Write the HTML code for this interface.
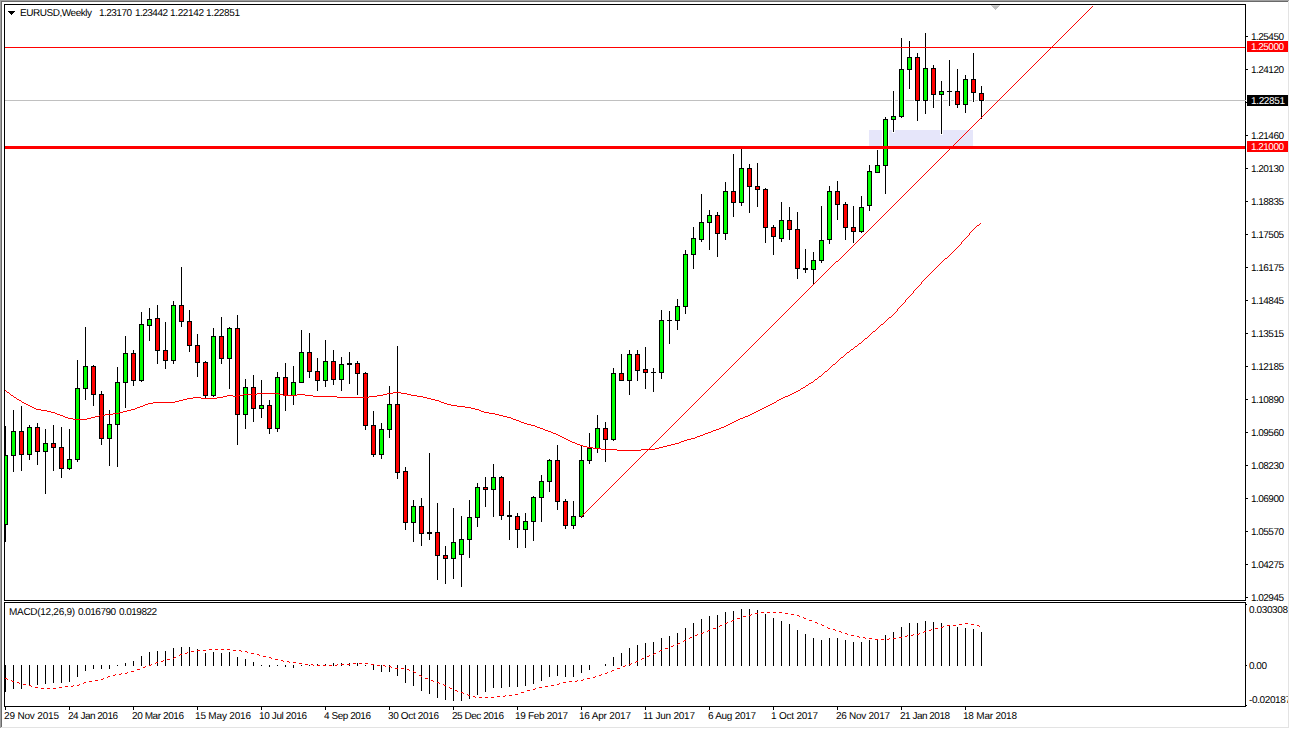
<!DOCTYPE html>
<html><head><meta charset="utf-8"><title>EURUSD,Weekly</title>
<style>html,body{margin:0;padding:0;background:#fff;width:1290px;height:729px;overflow:hidden}svg{display:block}</style>
</head><body>
<svg width="1290" height="729" viewBox="0 0 1290 729" shape-rendering="crispEdges"><defs><clipPath id="cm"><rect x="5" y="5" width="1240" height="595"/></clipPath><clipPath id="cd"><rect x="5" y="603" width="1240" height="103"/></clipPath></defs><rect x="0" y="0" width="1290" height="729" fill="#FFFFFF"/><rect x="0" y="0" width="1289" height="1" fill="#A0A0A0"/><rect x="0" y="0" width="1" height="728" fill="#A0A0A0"/><rect x="1" y="1" width="1287" height="1" fill="#696969"/><rect x="1" y="1" width="1" height="726" fill="#696969"/><rect x="1" y="727" width="1288" height="1" fill="#E3E3E3"/><rect x="1288" y="1" width="1" height="727" fill="#E3E3E3"/><g clip-path="url(#cm)"><rect x="869" y="130" width="104" height="17" fill="#E6E6FA"/><rect x="5" y="100" width="1241" height="1" fill="#C0C0C0"/><rect x="5" y="426" width="1" height="116" fill="#000000"/><rect x="3" y="455" width="5" height="70" fill="#000000"/><rect x="4" y="456" width="3" height="68" fill="#00FF00"/><rect x="13" y="410" width="1" height="62" fill="#000000"/><rect x="11" y="431" width="5" height="25" fill="#000000"/><rect x="12" y="432" width="3" height="23" fill="#00FF00"/><rect x="21" y="406" width="1" height="65" fill="#000000"/><rect x="19" y="431" width="5" height="24" fill="#000000"/><rect x="20" y="432" width="3" height="22" fill="#FF0000"/><rect x="29" y="425" width="1" height="35" fill="#000000"/><rect x="27" y="427" width="5" height="28" fill="#000000"/><rect x="28" y="428" width="3" height="26" fill="#00FF00"/><rect x="37" y="423" width="1" height="42" fill="#000000"/><rect x="35" y="427" width="5" height="25" fill="#000000"/><rect x="36" y="428" width="3" height="23" fill="#FF0000"/><rect x="45" y="429" width="1" height="65" fill="#000000"/><rect x="43" y="443" width="5" height="9" fill="#000000"/><rect x="44" y="444" width="3" height="7" fill="#00FF00"/><rect x="53" y="425" width="1" height="46" fill="#000000"/><rect x="51" y="443" width="5" height="5" fill="#000000"/><rect x="52" y="444" width="3" height="3" fill="#FF0000"/><rect x="61" y="427" width="1" height="51" fill="#000000"/><rect x="59" y="447" width="5" height="22" fill="#000000"/><rect x="60" y="448" width="3" height="20" fill="#FF0000"/><rect x="69" y="429" width="1" height="41" fill="#000000"/><rect x="67" y="459" width="5" height="10" fill="#000000"/><rect x="68" y="460" width="3" height="8" fill="#00FF00"/><rect x="77" y="360" width="1" height="102" fill="#000000"/><rect x="75" y="388" width="5" height="72" fill="#000000"/><rect x="76" y="389" width="3" height="70" fill="#00FF00"/><rect x="85" y="327" width="1" height="73" fill="#000000"/><rect x="83" y="366" width="5" height="23" fill="#000000"/><rect x="84" y="367" width="3" height="21" fill="#00FF00"/><rect x="93" y="365" width="1" height="41" fill="#000000"/><rect x="91" y="366" width="5" height="29" fill="#000000"/><rect x="92" y="367" width="3" height="27" fill="#FF0000"/><rect x="101" y="391" width="1" height="54" fill="#000000"/><rect x="99" y="394" width="5" height="45" fill="#000000"/><rect x="100" y="395" width="3" height="43" fill="#FF0000"/><rect x="109" y="410" width="1" height="56" fill="#000000"/><rect x="107" y="424" width="5" height="15" fill="#000000"/><rect x="108" y="425" width="3" height="13" fill="#00FF00"/><rect x="117" y="367" width="1" height="100" fill="#000000"/><rect x="115" y="382" width="5" height="43" fill="#000000"/><rect x="116" y="383" width="3" height="41" fill="#00FF00"/><rect x="125" y="336" width="1" height="72" fill="#000000"/><rect x="123" y="353" width="5" height="30" fill="#000000"/><rect x="124" y="354" width="3" height="28" fill="#00FF00"/><rect x="133" y="350" width="1" height="36" fill="#000000"/><rect x="131" y="353" width="5" height="28" fill="#000000"/><rect x="132" y="354" width="3" height="26" fill="#FF0000"/><rect x="141" y="312" width="1" height="70" fill="#000000"/><rect x="139" y="324" width="5" height="57" fill="#000000"/><rect x="140" y="325" width="3" height="55" fill="#00FF00"/><rect x="149" y="308" width="1" height="33" fill="#000000"/><rect x="147" y="319" width="5" height="7" fill="#000000"/><rect x="148" y="320" width="3" height="5" fill="#00FF00"/><rect x="157" y="305" width="1" height="59" fill="#000000"/><rect x="155" y="318" width="5" height="33" fill="#000000"/><rect x="156" y="319" width="3" height="31" fill="#FF0000"/><rect x="165" y="322" width="1" height="47" fill="#000000"/><rect x="163" y="350" width="5" height="11" fill="#000000"/><rect x="164" y="351" width="3" height="9" fill="#FF0000"/><rect x="173" y="301" width="1" height="63" fill="#000000"/><rect x="171" y="305" width="5" height="56" fill="#000000"/><rect x="172" y="306" width="3" height="54" fill="#00FF00"/><rect x="181" y="267" width="1" height="60" fill="#000000"/><rect x="179" y="305" width="5" height="17" fill="#000000"/><rect x="180" y="306" width="3" height="15" fill="#FF0000"/><rect x="189" y="310" width="1" height="42" fill="#000000"/><rect x="187" y="321" width="5" height="25" fill="#000000"/><rect x="188" y="322" width="3" height="23" fill="#FF0000"/><rect x="197" y="334" width="1" height="43" fill="#000000"/><rect x="195" y="345" width="5" height="18" fill="#000000"/><rect x="196" y="346" width="3" height="16" fill="#FF0000"/><rect x="205" y="361" width="1" height="37" fill="#000000"/><rect x="203" y="362" width="5" height="34" fill="#000000"/><rect x="204" y="363" width="3" height="32" fill="#FF0000"/><rect x="213" y="328" width="1" height="69" fill="#000000"/><rect x="211" y="336" width="5" height="60" fill="#000000"/><rect x="212" y="337" width="3" height="58" fill="#00FF00"/><rect x="221" y="317" width="1" height="47" fill="#000000"/><rect x="219" y="336" width="5" height="23" fill="#000000"/><rect x="220" y="337" width="3" height="21" fill="#FF0000"/><rect x="229" y="327" width="1" height="62" fill="#000000"/><rect x="227" y="328" width="5" height="31" fill="#000000"/><rect x="228" y="329" width="3" height="29" fill="#00FF00"/><rect x="237" y="315" width="1" height="130" fill="#000000"/><rect x="235" y="328" width="5" height="87" fill="#000000"/><rect x="236" y="329" width="3" height="85" fill="#FF0000"/><rect x="245" y="379" width="1" height="50" fill="#000000"/><rect x="243" y="387" width="5" height="28" fill="#000000"/><rect x="244" y="388" width="3" height="26" fill="#00FF00"/><rect x="253" y="375" width="1" height="47" fill="#000000"/><rect x="251" y="387" width="5" height="22" fill="#000000"/><rect x="252" y="388" width="3" height="20" fill="#FF0000"/><rect x="261" y="380" width="1" height="38" fill="#000000"/><rect x="259" y="405" width="5" height="4" fill="#000000"/><rect x="260" y="406" width="3" height="2" fill="#00FF00"/><rect x="269" y="400" width="1" height="34" fill="#000000"/><rect x="267" y="405" width="5" height="24" fill="#000000"/><rect x="268" y="406" width="3" height="22" fill="#FF0000"/><rect x="277" y="372" width="1" height="60" fill="#000000"/><rect x="275" y="377" width="5" height="52" fill="#000000"/><rect x="276" y="378" width="3" height="50" fill="#00FF00"/><rect x="285" y="363" width="1" height="48" fill="#000000"/><rect x="283" y="377" width="5" height="19" fill="#000000"/><rect x="284" y="378" width="3" height="17" fill="#FF0000"/><rect x="293" y="366" width="1" height="39" fill="#000000"/><rect x="291" y="382" width="5" height="14" fill="#000000"/><rect x="292" y="383" width="3" height="12" fill="#00FF00"/><rect x="301" y="330" width="1" height="52" fill="#000000"/><rect x="299" y="352" width="5" height="31" fill="#000000"/><rect x="300" y="353" width="3" height="29" fill="#00FF00"/><rect x="309" y="333" width="1" height="45" fill="#000000"/><rect x="307" y="352" width="5" height="20" fill="#000000"/><rect x="308" y="353" width="3" height="18" fill="#FF0000"/><rect x="317" y="358" width="1" height="33" fill="#000000"/><rect x="315" y="371" width="5" height="10" fill="#000000"/><rect x="316" y="372" width="3" height="8" fill="#FF0000"/><rect x="325" y="340" width="1" height="47" fill="#000000"/><rect x="323" y="361" width="5" height="20" fill="#000000"/><rect x="324" y="362" width="3" height="18" fill="#00FF00"/><rect x="333" y="350" width="1" height="35" fill="#000000"/><rect x="331" y="361" width="5" height="19" fill="#000000"/><rect x="332" y="362" width="3" height="17" fill="#FF0000"/><rect x="341" y="357" width="1" height="34" fill="#000000"/><rect x="339" y="364" width="5" height="16" fill="#000000"/><rect x="340" y="365" width="3" height="14" fill="#00FF00"/><rect x="349" y="352" width="1" height="32" fill="#000000"/><rect x="347" y="363" width="5" height="2" fill="#000000"/><rect x="357" y="361" width="1" height="34" fill="#000000"/><rect x="355" y="363" width="5" height="11" fill="#000000"/><rect x="356" y="364" width="3" height="9" fill="#FF0000"/><rect x="365" y="372" width="1" height="58" fill="#000000"/><rect x="363" y="373" width="5" height="53" fill="#000000"/><rect x="364" y="374" width="3" height="51" fill="#FF0000"/><rect x="373" y="411" width="1" height="46" fill="#000000"/><rect x="371" y="425" width="5" height="30" fill="#000000"/><rect x="372" y="426" width="3" height="28" fill="#FF0000"/><rect x="381" y="423" width="1" height="36" fill="#000000"/><rect x="379" y="429" width="5" height="26" fill="#000000"/><rect x="380" y="430" width="3" height="24" fill="#00FF00"/><rect x="389" y="386" width="1" height="52" fill="#000000"/><rect x="387" y="404" width="5" height="26" fill="#000000"/><rect x="388" y="405" width="3" height="24" fill="#00FF00"/><rect x="397" y="346" width="1" height="133" fill="#000000"/><rect x="395" y="404" width="5" height="69" fill="#000000"/><rect x="396" y="405" width="3" height="67" fill="#FF0000"/><rect x="405" y="467" width="1" height="63" fill="#000000"/><rect x="403" y="471" width="5" height="52" fill="#000000"/><rect x="404" y="472" width="3" height="50" fill="#FF0000"/><rect x="413" y="500" width="1" height="42" fill="#000000"/><rect x="411" y="506" width="5" height="17" fill="#000000"/><rect x="412" y="507" width="3" height="15" fill="#00FF00"/><rect x="421" y="498" width="1" height="48" fill="#000000"/><rect x="419" y="506" width="5" height="28" fill="#000000"/><rect x="420" y="507" width="3" height="26" fill="#FF0000"/><rect x="429" y="453" width="1" height="87" fill="#000000"/><rect x="427" y="532" width="5" height="2" fill="#000000"/><rect x="437" y="503" width="1" height="77" fill="#000000"/><rect x="435" y="532" width="5" height="24" fill="#000000"/><rect x="436" y="533" width="3" height="22" fill="#FF0000"/><rect x="445" y="546" width="1" height="38" fill="#000000"/><rect x="443" y="555" width="5" height="4" fill="#000000"/><rect x="444" y="556" width="3" height="2" fill="#FF0000"/><rect x="453" y="508" width="1" height="71" fill="#000000"/><rect x="451" y="542" width="5" height="17" fill="#000000"/><rect x="452" y="543" width="3" height="15" fill="#00FF00"/><rect x="461" y="516" width="1" height="71" fill="#000000"/><rect x="459" y="539" width="5" height="16" fill="#000000"/><rect x="460" y="540" width="3" height="14" fill="#00FF00"/><rect x="469" y="500" width="1" height="58" fill="#000000"/><rect x="467" y="517" width="5" height="23" fill="#000000"/><rect x="468" y="518" width="3" height="21" fill="#00FF00"/><rect x="477" y="483" width="1" height="44" fill="#000000"/><rect x="475" y="487" width="5" height="31" fill="#000000"/><rect x="476" y="488" width="3" height="29" fill="#00FF00"/><rect x="485" y="477" width="1" height="30" fill="#000000"/><rect x="483" y="487" width="5" height="3" fill="#000000"/><rect x="484" y="488" width="3" height="1" fill="#FF0000"/><rect x="493" y="464" width="1" height="53" fill="#000000"/><rect x="491" y="477" width="5" height="13" fill="#000000"/><rect x="492" y="478" width="3" height="11" fill="#00FF00"/><rect x="501" y="476" width="1" height="44" fill="#000000"/><rect x="499" y="477" width="5" height="39" fill="#000000"/><rect x="500" y="478" width="3" height="37" fill="#FF0000"/><rect x="509" y="501" width="1" height="39" fill="#000000"/><rect x="507" y="515" width="5" height="2" fill="#000000"/><rect x="517" y="513" width="1" height="35" fill="#000000"/><rect x="515" y="516" width="5" height="14" fill="#000000"/><rect x="516" y="517" width="3" height="12" fill="#FF0000"/><rect x="525" y="513" width="1" height="35" fill="#000000"/><rect x="523" y="521" width="5" height="9" fill="#000000"/><rect x="524" y="522" width="3" height="7" fill="#00FF00"/><rect x="533" y="496" width="1" height="45" fill="#000000"/><rect x="531" y="497" width="5" height="25" fill="#000000"/><rect x="532" y="498" width="3" height="23" fill="#00FF00"/><rect x="541" y="475" width="1" height="47" fill="#000000"/><rect x="539" y="481" width="5" height="17" fill="#000000"/><rect x="540" y="482" width="3" height="15" fill="#00FF00"/><rect x="549" y="459" width="1" height="33" fill="#000000"/><rect x="547" y="460" width="5" height="22" fill="#000000"/><rect x="548" y="461" width="3" height="20" fill="#00FF00"/><rect x="557" y="445" width="1" height="65" fill="#000000"/><rect x="555" y="460" width="5" height="42" fill="#000000"/><rect x="556" y="461" width="3" height="40" fill="#FF0000"/><rect x="565" y="499" width="1" height="30" fill="#000000"/><rect x="563" y="501" width="5" height="25" fill="#000000"/><rect x="564" y="502" width="3" height="23" fill="#FF0000"/><rect x="573" y="501" width="1" height="28" fill="#000000"/><rect x="571" y="516" width="5" height="10" fill="#000000"/><rect x="572" y="517" width="3" height="8" fill="#00FF00"/><rect x="581" y="445" width="1" height="73" fill="#000000"/><rect x="579" y="460" width="5" height="57" fill="#000000"/><rect x="580" y="461" width="3" height="55" fill="#00FF00"/><rect x="589" y="433" width="1" height="31" fill="#000000"/><rect x="587" y="448" width="5" height="13" fill="#000000"/><rect x="588" y="449" width="3" height="11" fill="#00FF00"/><rect x="597" y="415" width="1" height="38" fill="#000000"/><rect x="595" y="428" width="5" height="21" fill="#000000"/><rect x="596" y="429" width="3" height="19" fill="#00FF00"/><rect x="605" y="422" width="1" height="40" fill="#000000"/><rect x="603" y="428" width="5" height="12" fill="#000000"/><rect x="604" y="429" width="3" height="10" fill="#FF0000"/><rect x="613" y="368" width="1" height="73" fill="#000000"/><rect x="611" y="373" width="5" height="67" fill="#000000"/><rect x="612" y="374" width="3" height="65" fill="#00FF00"/><rect x="621" y="354" width="1" height="27" fill="#000000"/><rect x="619" y="373" width="5" height="8" fill="#000000"/><rect x="620" y="374" width="3" height="6" fill="#FF0000"/><rect x="629" y="350" width="1" height="45" fill="#000000"/><rect x="627" y="354" width="5" height="27" fill="#000000"/><rect x="628" y="355" width="3" height="25" fill="#00FF00"/><rect x="637" y="350" width="1" height="31" fill="#000000"/><rect x="635" y="354" width="5" height="17" fill="#000000"/><rect x="636" y="355" width="3" height="15" fill="#FF0000"/><rect x="645" y="347" width="1" height="42" fill="#000000"/><rect x="643" y="369" width="5" height="4" fill="#000000"/><rect x="644" y="370" width="3" height="2" fill="#FF0000"/><rect x="653" y="368" width="1" height="24" fill="#000000"/><rect x="651" y="372" width="5" height="1" fill="#000000"/><rect x="661" y="310" width="1" height="69" fill="#000000"/><rect x="659" y="320" width="5" height="53" fill="#000000"/><rect x="660" y="321" width="3" height="51" fill="#00FF00"/><rect x="669" y="311" width="1" height="33" fill="#000000"/><rect x="667" y="320" width="5" height="1" fill="#000000"/><rect x="677" y="299" width="1" height="31" fill="#000000"/><rect x="675" y="306" width="5" height="15" fill="#000000"/><rect x="676" y="307" width="3" height="13" fill="#00FF00"/><rect x="685" y="250" width="1" height="64" fill="#000000"/><rect x="683" y="254" width="5" height="53" fill="#000000"/><rect x="684" y="255" width="3" height="51" fill="#00FF00"/><rect x="693" y="227" width="1" height="42" fill="#000000"/><rect x="691" y="238" width="5" height="17" fill="#000000"/><rect x="692" y="239" width="3" height="15" fill="#00FF00"/><rect x="701" y="194" width="1" height="48" fill="#000000"/><rect x="699" y="222" width="5" height="18" fill="#000000"/><rect x="700" y="223" width="3" height="16" fill="#00FF00"/><rect x="709" y="210" width="1" height="40" fill="#000000"/><rect x="707" y="215" width="5" height="8" fill="#000000"/><rect x="708" y="216" width="3" height="6" fill="#00FF00"/><rect x="717" y="212" width="1" height="45" fill="#000000"/><rect x="715" y="215" width="5" height="19" fill="#000000"/><rect x="716" y="216" width="3" height="17" fill="#FF0000"/><rect x="725" y="182" width="1" height="58" fill="#000000"/><rect x="723" y="191" width="5" height="43" fill="#000000"/><rect x="724" y="192" width="3" height="41" fill="#00FF00"/><rect x="733" y="154" width="1" height="63" fill="#000000"/><rect x="731" y="191" width="5" height="12" fill="#000000"/><rect x="732" y="192" width="3" height="10" fill="#FF0000"/><rect x="740" y="147" width="3" height="60" fill="#FFFFFF"/><rect x="738" y="167" width="7" height="37" fill="#FFFFFF"/><rect x="741" y="148" width="1" height="58" fill="#000000"/><rect x="739" y="168" width="5" height="35" fill="#000000"/><rect x="740" y="169" width="3" height="33" fill="#00FF00"/><rect x="749" y="164" width="1" height="49" fill="#000000"/><rect x="747" y="168" width="5" height="19" fill="#000000"/><rect x="748" y="169" width="3" height="17" fill="#FF0000"/><rect x="757" y="163" width="1" height="44" fill="#000000"/><rect x="755" y="186" width="5" height="4" fill="#000000"/><rect x="756" y="187" width="3" height="2" fill="#FF0000"/><rect x="765" y="188" width="1" height="55" fill="#000000"/><rect x="763" y="189" width="5" height="39" fill="#000000"/><rect x="764" y="190" width="3" height="37" fill="#FF0000"/><rect x="773" y="225" width="1" height="30" fill="#000000"/><rect x="771" y="227" width="5" height="10" fill="#000000"/><rect x="772" y="228" width="3" height="8" fill="#FF0000"/><rect x="781" y="202" width="1" height="40" fill="#000000"/><rect x="779" y="220" width="5" height="19" fill="#000000"/><rect x="780" y="221" width="3" height="17" fill="#00FF00"/><rect x="789" y="207" width="1" height="33" fill="#000000"/><rect x="787" y="220" width="5" height="10" fill="#000000"/><rect x="788" y="221" width="3" height="8" fill="#FF0000"/><rect x="797" y="212" width="1" height="67" fill="#000000"/><rect x="795" y="229" width="5" height="40" fill="#000000"/><rect x="796" y="230" width="3" height="38" fill="#FF0000"/><rect x="805" y="249" width="1" height="24" fill="#000000"/><rect x="803" y="268" width="5" height="2" fill="#000000"/><rect x="813" y="252" width="1" height="32" fill="#000000"/><rect x="811" y="260" width="5" height="10" fill="#000000"/><rect x="812" y="261" width="3" height="8" fill="#00FF00"/><rect x="821" y="206" width="1" height="57" fill="#000000"/><rect x="819" y="240" width="5" height="21" fill="#000000"/><rect x="820" y="241" width="3" height="19" fill="#00FF00"/><rect x="829" y="186" width="1" height="58" fill="#000000"/><rect x="827" y="191" width="5" height="49" fill="#000000"/><rect x="828" y="192" width="3" height="47" fill="#00FF00"/><rect x="837" y="181" width="1" height="39" fill="#000000"/><rect x="835" y="191" width="5" height="14" fill="#000000"/><rect x="836" y="192" width="3" height="12" fill="#FF0000"/><rect x="845" y="202" width="1" height="38" fill="#000000"/><rect x="843" y="204" width="5" height="24" fill="#000000"/><rect x="844" y="205" width="3" height="22" fill="#FF0000"/><rect x="853" y="206" width="1" height="37" fill="#000000"/><rect x="851" y="227" width="5" height="5" fill="#000000"/><rect x="852" y="228" width="3" height="3" fill="#FF0000"/><rect x="861" y="196" width="1" height="37" fill="#000000"/><rect x="859" y="207" width="5" height="25" fill="#000000"/><rect x="860" y="208" width="3" height="23" fill="#00FF00"/><rect x="869" y="165" width="1" height="46" fill="#000000"/><rect x="867" y="171" width="5" height="35" fill="#000000"/><rect x="868" y="172" width="3" height="33" fill="#00FF00"/><rect x="876" y="149" width="3" height="24" fill="#FFFFFF"/><rect x="874" y="164" width="7" height="10" fill="#FFFFFF"/><rect x="877" y="150" width="1" height="22" fill="#000000"/><rect x="875" y="165" width="5" height="8" fill="#000000"/><rect x="876" y="166" width="3" height="6" fill="#00FF00"/><rect x="884" y="116" width="3" height="79" fill="#FFFFFF"/><rect x="882" y="118" width="7" height="49" fill="#FFFFFF"/><rect x="885" y="117" width="1" height="77" fill="#000000"/><rect x="883" y="119" width="5" height="47" fill="#000000"/><rect x="884" y="120" width="3" height="45" fill="#00FF00"/><rect x="892" y="90" width="3" height="43" fill="#FFFFFF"/><rect x="890" y="115" width="7" height="6" fill="#FFFFFF"/><rect x="893" y="91" width="1" height="41" fill="#000000"/><rect x="891" y="116" width="5" height="4" fill="#000000"/><rect x="892" y="117" width="3" height="2" fill="#00FF00"/><rect x="900" y="37" width="3" height="82" fill="#FFFFFF"/><rect x="898" y="68" width="7" height="50" fill="#FFFFFF"/><rect x="901" y="38" width="1" height="80" fill="#000000"/><rect x="899" y="69" width="5" height="48" fill="#000000"/><rect x="900" y="70" width="3" height="46" fill="#00FF00"/><rect x="909" y="41" width="1" height="48" fill="#000000"/><rect x="907" y="57" width="5" height="13" fill="#000000"/><rect x="908" y="58" width="3" height="11" fill="#00FF00"/><rect x="916" y="52" width="3" height="70" fill="#FFFFFF"/><rect x="914" y="56" width="7" height="46" fill="#FFFFFF"/><rect x="917" y="53" width="1" height="68" fill="#000000"/><rect x="915" y="57" width="5" height="44" fill="#000000"/><rect x="916" y="58" width="3" height="42" fill="#FF0000"/><rect x="924" y="32" width="3" height="83" fill="#FFFFFF"/><rect x="922" y="67" width="7" height="35" fill="#FFFFFF"/><rect x="925" y="33" width="1" height="81" fill="#000000"/><rect x="923" y="68" width="5" height="33" fill="#000000"/><rect x="924" y="69" width="3" height="31" fill="#00FF00"/><rect x="932" y="64" width="3" height="45" fill="#FFFFFF"/><rect x="930" y="67" width="7" height="29" fill="#FFFFFF"/><rect x="933" y="65" width="1" height="43" fill="#000000"/><rect x="931" y="68" width="5" height="27" fill="#000000"/><rect x="932" y="69" width="3" height="25" fill="#FF0000"/><rect x="940" y="80" width="3" height="55" fill="#FFFFFF"/><rect x="938" y="90" width="7" height="6" fill="#FFFFFF"/><rect x="941" y="81" width="1" height="53" fill="#000000"/><rect x="939" y="91" width="5" height="4" fill="#000000"/><rect x="940" y="92" width="3" height="2" fill="#00FF00"/><rect x="948" y="59" width="3" height="48" fill="#FFFFFF"/><rect x="946" y="90" width="7" height="3" fill="#FFFFFF"/><rect x="949" y="60" width="1" height="46" fill="#000000"/><rect x="947" y="91" width="5" height="1" fill="#000000"/><rect x="956" y="68" width="3" height="41" fill="#FFFFFF"/><rect x="954" y="90" width="7" height="16" fill="#FFFFFF"/><rect x="957" y="69" width="1" height="39" fill="#000000"/><rect x="955" y="91" width="5" height="14" fill="#000000"/><rect x="956" y="92" width="3" height="12" fill="#FF0000"/><rect x="964" y="74" width="3" height="40" fill="#FFFFFF"/><rect x="962" y="78" width="7" height="28" fill="#FFFFFF"/><rect x="965" y="75" width="1" height="38" fill="#000000"/><rect x="963" y="79" width="5" height="26" fill="#000000"/><rect x="964" y="80" width="3" height="24" fill="#00FF00"/><rect x="972" y="52" width="3" height="51" fill="#FFFFFF"/><rect x="970" y="78" width="7" height="16" fill="#FFFFFF"/><rect x="973" y="53" width="1" height="49" fill="#000000"/><rect x="971" y="79" width="5" height="14" fill="#000000"/><rect x="972" y="80" width="3" height="12" fill="#FF0000"/><rect x="980" y="85" width="3" height="35" fill="#FFFFFF"/><rect x="978" y="92" width="7" height="10" fill="#FFFFFF"/><rect x="981" y="86" width="1" height="33" fill="#000000"/><rect x="979" y="93" width="5" height="8" fill="#000000"/><rect x="980" y="94" width="3" height="6" fill="#FF0000"/><rect x="5" y="47" width="1240" height="1" fill="#FF0000"/><rect x="5" y="146" width="1240" height="3" fill="#FF0000"/><path d="M875 223h1v1h-1zM844 254h1v1h-1zM648 449h1v1h-1zM703 394h1v1h-1zM672 425h1v1h-1zM758 339h1v1h-1zM727 370h1v1h-1zM813 284h1v1h-1zM937 161h1v1h-1zM608 489h1v1h-1zM992 106h1v1h-1zM663 434h1v1h-1zM961 137h1v1h-1zM1047 51h1v1h-1zM718 379h1v1h-1zM773 324h1v1h-1zM903 195h1v1h-1zM958 140h1v1h-1zM863 235h1v1h-1zM691 406h1v1h-1zM660 437h1v1h-1zM746 351h1v1h-1zM832 265h1v1h-1zM801 296h1v1h-1zM596 501h1v1h-1zM980 118h1v1h-1zM651 446h1v1h-1zM1066 32h1v1h-1zM1035 63h1v1h-1zM706 391h1v1h-1zM1090 8h1v1h-1zM891 207h1v1h-1zM946 152h1v1h-1zM617 480h1v1h-1zM882 216h1v1h-1zM851 247h1v1h-1zM906 192h1v1h-1zM679 418h1v1h-1zM765 332h1v1h-1zM734 363h1v1h-1zM820 277h1v1h-1zM789 308h1v1h-1zM584 513h1v1h-1zM999 99h1v1h-1zM968 130h1v1h-1zM639 458h1v1h-1zM1054 44h1v1h-1zM1023 75h1v1h-1zM1078 20h1v1h-1zM835 262h1v1h-1zM879 219h1v1h-1zM636 461h1v1h-1zM605 492h1v1h-1zM870 228h1v1h-1zM839 259h1v1h-1zM925 173h1v1h-1zM894 204h1v1h-1zM667 430h1v1h-1zM753 344h1v1h-1zM722 375h1v1h-1zM808 289h1v1h-1zM777 320h1v1h-1zM987 111h1v1h-1zM956 142h1v1h-1zM627 470h1v1h-1zM1042 56h1v1h-1zM713 384h1v1h-1zM1011 87h1v1h-1zM768 329h1v1h-1zM823 274h1v1h-1zM953 145h1v1h-1zM624 473h1v1h-1zM593 504h1v1h-1zM858 240h1v1h-1zM913 185h1v1h-1zM686 411h1v1h-1zM1070 28h1v1h-1zM741 356h1v1h-1zM710 387h1v1h-1zM796 301h1v1h-1zM975 123h1v1h-1zM646 451h1v1h-1zM944 154h1v1h-1zM1030 68h1v1h-1zM701 396h1v1h-1zM1085 13h1v1h-1zM756 341h1v1h-1zM886 212h1v1h-1zM941 157h1v1h-1zM612 485h1v1h-1zM581 516h1v1h-1zM996 102h1v1h-1zM846 252h1v1h-1zM932 166h1v1h-1zM901 197h1v1h-1zM674 423h1v1h-1zM729 368h1v1h-1zM698 399h1v1h-1zM815 282h1v1h-1zM784 313h1v1h-1zM963 135h1v1h-1zM634 463h1v1h-1zM1049 49h1v1h-1zM1018 80h1v1h-1zM689 408h1v1h-1zM1073 25h1v1h-1zM874 224h1v1h-1zM929 169h1v1h-1zM600 497h1v1h-1zM984 114h1v1h-1zM655 442h1v1h-1zM920 178h1v1h-1zM889 209h1v1h-1zM717 380h1v1h-1zM803 294h1v1h-1zM772 325h1v1h-1zM827 270h1v1h-1zM622 475h1v1h-1zM1037 61h1v1h-1zM1006 92h1v1h-1zM677 420h1v1h-1zM1092 6h1v1h-1zM1061 37h1v1h-1zM862 236h1v1h-1zM619 478h1v1h-1zM917 181h1v1h-1zM588 509h1v1h-1zM1003 95h1v1h-1zM972 126h1v1h-1zM643 454h1v1h-1zM853 245h1v1h-1zM908 190h1v1h-1zM877 221h1v1h-1zM736 361h1v1h-1zM705 392h1v1h-1zM791 306h1v1h-1zM760 337h1v1h-1zM610 487h1v1h-1zM1025 73h1v1h-1zM994 104h1v1h-1zM1080 18h1v1h-1zM850 248h1v1h-1zM607 490h1v1h-1zM905 193h1v1h-1zM991 107h1v1h-1zM662 435h1v1h-1zM960 138h1v1h-1zM631 466h1v1h-1zM1015 83h1v1h-1zM841 257h1v1h-1zM896 202h1v1h-1zM865 233h1v1h-1zM951 147h1v1h-1zM724 373h1v1h-1zM693 404h1v1h-1zM779 318h1v1h-1zM748 349h1v1h-1zM834 263h1v1h-1zM1013 85h1v1h-1zM982 116h1v1h-1zM1068 30h1v1h-1zM838 260h1v1h-1zM924 174h1v1h-1zM595 502h1v1h-1zM893 205h1v1h-1zM979 119h1v1h-1zM650 447h1v1h-1zM948 150h1v1h-1zM884 214h1v1h-1zM939 159h1v1h-1zM712 385h1v1h-1zM767 330h1v1h-1zM822 275h1v1h-1zM1001 97h1v1h-1zM1087 11h1v1h-1zM1056 42h1v1h-1zM857 241h1v1h-1zM912 186h1v1h-1zM583 514h1v1h-1zM881 217h1v1h-1zM669 428h1v1h-1zM967 131h1v1h-1zM638 459h1v1h-1zM1022 76h1v1h-1zM872 226h1v1h-1zM927 171h1v1h-1zM786 311h1v1h-1zM1084 14h1v1h-1zM755 342h1v1h-1zM810 287h1v1h-1zM1020 78h1v1h-1zM989 109h1v1h-1zM1075 23h1v1h-1zM1044 54h1v1h-1zM845 253h1v1h-1zM900 198h1v1h-1zM657 440h1v1h-1zM955 143h1v1h-1zM626 471h1v1h-1zM1041 57h1v1h-1zM1010 88h1v1h-1zM681 416h1v1h-1zM860 238h1v1h-1zM915 183h1v1h-1zM719 378h1v1h-1zM774 323h1v1h-1zM1072 26h1v1h-1zM743 354h1v1h-1zM829 268h1v1h-1zM798 299h1v1h-1zM1008 90h1v1h-1zM1063 35h1v1h-1zM1032 66h1v1h-1zM590 507h1v1h-1zM888 210h1v1h-1zM974 124h1v1h-1zM645 452h1v1h-1zM943 155h1v1h-1zM614 483h1v1h-1zM1029 69h1v1h-1zM700 397h1v1h-1zM998 100h1v1h-1zM848 250h1v1h-1zM934 164h1v1h-1zM1091 7h1v1h-1zM762 335h1v1h-1zM731 366h1v1h-1zM817 280h1v1h-1zM1051 47h1v1h-1zM907 191h1v1h-1zM876 222h1v1h-1zM962 136h1v1h-1zM633 464h1v1h-1zM931 167h1v1h-1zM602 495h1v1h-1zM1017 81h1v1h-1zM688 409h1v1h-1zM986 112h1v1h-1zM867 231h1v1h-1zM922 176h1v1h-1zM977 121h1v1h-1zM1079 19h1v1h-1zM750 347h1v1h-1zM836 261h2v1h-2zM805 292h1v1h-1zM1039 59h1v1h-1zM895 203h1v1h-1zM864 234h1v1h-1zM950 148h1v1h-1zM621 476h1v1h-1zM919 179h1v1h-1zM707 390h1v1h-1zM1005 93h1v1h-1zM676 421h1v1h-1zM1060 38h1v1h-1zM855 243h1v1h-1zM910 188h1v1h-1zM965 133h1v1h-1zM738 359h1v1h-1zM824 273h1v1h-1zM793 304h1v1h-1zM1058 40h1v1h-1zM1027 71h1v1h-1zM790 307h1v1h-1zM1082 16h1v1h-1zM883 215h1v1h-1zM852 246h1v1h-1zM640 457h1v1h-1zM938 160h1v1h-1zM609 488h1v1h-1zM1024 74h1v1h-1zM695 402h1v1h-1zM993 105h1v1h-1zM664 433h1v1h-1zM1048 50h1v1h-1zM843 255h1v1h-1zM898 200h1v1h-1zM757 340h1v1h-1zM812 285h1v1h-1zM781 316h1v1h-1zM1046 52h1v1h-1zM871 227h1v1h-1zM840 258h1v1h-1zM628 469h1v1h-1zM926 172h1v1h-1zM597 500h1v1h-1zM957 141h1v1h-1zM683 414h1v1h-1zM981 117h1v1h-1zM652 445h1v1h-1zM1012 86h1v1h-1zM1067 31h1v1h-1zM1036 62h1v1h-1zM800 297h1v1h-1zM769 328h1v1h-1zM1034 64h1v1h-1zM1089 9h1v1h-1zM859 239h1v1h-1zM945 153h1v1h-1zM616 481h1v1h-1zM914 184h1v1h-1zM585 512h1v1h-1zM1000 98h1v1h-1zM671 426h1v1h-1zM969 129h1v1h-1zM1055 43h1v1h-1zM726 371h1v1h-1zM788 309h1v1h-1zM1077 21h1v1h-1zM878 220h1v1h-1zM847 251h1v1h-1zM933 165h1v1h-1zM604 493h1v1h-1zM902 196h1v1h-1zM690 407h1v1h-1zM988 110h1v1h-1zM659 438h1v1h-1zM1074 24h1v1h-1zM745 352h1v1h-1zM1043 55h1v1h-1zM714 383h1v1h-1zM807 290h1v1h-1zM776 321h1v1h-1zM831 266h1v1h-1zM1065 33h1v1h-1zM866 232h1v1h-1zM623 474h1v1h-1zM921 177h1v1h-1zM592 505h1v1h-1zM890 208h1v1h-1zM678 419h1v1h-1zM976 122h1v1h-1zM647 450h1v1h-1zM1062 36h1v1h-1zM733 364h1v1h-1zM1031 67h1v1h-1zM702 395h1v1h-1zM1086 12h1v1h-1zM936 162h1v1h-1zM795 302h1v1h-1zM764 333h1v1h-1zM819 278h1v1h-1zM761 336h1v1h-1zM1053 45h1v1h-1zM816 281h1v1h-1zM854 244h1v1h-1zM611 486h1v1h-1zM909 189h1v1h-1zM995 103h1v1h-1zM666 431h1v1h-1zM964 134h1v1h-1zM635 462h1v1h-1zM1050 48h1v1h-1zM721 376h1v1h-1zM1019 79h1v1h-1zM869 229h1v1h-1zM783 314h1v1h-1zM694 403h1v1h-1zM749 348h1v1h-1zM804 293h1v1h-1zM928 170h1v1h-1zM599 498h1v1h-1zM897 201h1v1h-1zM983 115h1v1h-1zM654 443h1v1h-1zM952 146h1v1h-1zM740 357h1v1h-1zM1038 60h1v1h-1zM709 388h1v1h-1zM1007 91h1v1h-1zM826 271h1v1h-1zM682 415h1v1h-1zM737 360h1v1h-1zM792 305h1v1h-1zM916 182h1v1h-1zM587 510h1v1h-1zM885 213h1v1h-1zM673 424h1v1h-1zM971 127h1v1h-1zM642 455h1v1h-1zM940 158h1v1h-1zM728 369h1v1h-1zM1026 72h1v1h-1zM697 400h1v1h-1zM1081 17h1v1h-1zM752 345h1v1h-1zM842 256h1v1h-1zM814 283h1v1h-1zM615 482h1v1h-1zM670 427h1v1h-1zM725 372h1v1h-1zM811 286h1v1h-1zM780 317h1v1h-1zM904 194h1v1h-1zM873 225h1v1h-1zM661 436h1v1h-1zM959 139h1v1h-1zM630 467h1v1h-1zM1045 53h1v1h-1zM716 381h1v1h-1zM1014 84h1v1h-1zM685 412h1v1h-1zM771 326h1v1h-1zM1069 29h1v1h-1zM861 237h1v1h-1zM833 264h1v1h-1zM802 295h1v1h-1zM603 494h1v1h-1zM658 439h1v1h-1zM744 353h1v1h-1zM799 298h1v1h-1zM594 503h1v1h-1zM892 206h1v1h-1zM978 120h1v1h-1zM649 448h1v1h-1zM947 151h1v1h-1zM618 479h1v1h-1zM1033 65h1v1h-1zM704 393h1v1h-1zM1002 96h1v1h-1zM1088 10h1v1h-1zM759 338h1v1h-1zM1057 41h1v1h-1zM849 249h1v1h-1zM821 276h1v1h-1zM732 365h1v1h-1zM787 310h1v1h-1zM582 515h1v1h-1zM966 132h1v1h-1zM637 460h1v1h-1zM935 163h1v1h-1zM606 491h1v1h-1zM1021 77h1v1h-1zM692 405h1v1h-1zM990 108h1v1h-1zM778 319h1v1h-1zM1076 22h1v1h-1zM747 350h1v1h-1zM809 288h1v1h-1zM665 432h1v1h-1zM720 377h1v1h-1zM775 322h1v1h-1zM830 267h1v1h-1zM899 199h1v1h-1zM954 144h1v1h-1zM625 472h1v1h-1zM923 175h1v1h-1zM711 386h1v1h-1zM1009 89h1v1h-1zM680 417h1v1h-1zM766 331h1v1h-1zM1064 34h1v1h-1zM735 362h1v1h-1zM591 506h1v1h-1zM828 269h1v1h-1zM880 218h1v1h-1zM653 444h1v1h-1zM708 389h1v1h-1zM763 334h1v1h-1zM818 279h1v1h-1zM644 453h1v1h-1zM942 156h1v1h-1zM613 484h1v1h-1zM911 187h1v1h-1zM699 398h1v1h-1zM997 101h1v1h-1zM668 429h1v1h-1zM1028 70h1v1h-1zM754 343h1v1h-1zM1052 46h1v1h-1zM723 374h1v1h-1zM1083 15h1v1h-1zM868 230h1v1h-1zM641 456h1v1h-1zM696 401h1v1h-1zM782 315h1v1h-1zM751 346h1v1h-1zM806 291h1v1h-1zM632 465h1v1h-1zM930 168h1v1h-1zM601 496h1v1h-1zM1016 82h1v1h-1zM687 410h1v1h-1zM985 113h1v1h-1zM656 441h1v1h-1zM1071 27h1v1h-1zM742 355h1v1h-1zM1040 58h1v1h-1zM797 300h1v1h-1zM598 499h1v1h-1zM887 211h1v1h-1zM856 242h1v1h-1zM629 468h1v1h-1zM715 382h1v1h-1zM684 413h1v1h-1zM770 327h1v1h-1zM739 358h1v1h-1zM825 272h1v1h-1zM794 303h1v1h-1zM949 149h1v1h-1zM620 477h1v1h-1zM918 180h1v1h-1zM589 508h1v1h-1zM1004 94h1v1h-1zM675 422h1v1h-1zM973 125h1v1h-1zM1059 39h1v1h-1zM730 367h1v1h-1zM785 312h1v1h-1zM586 511h1v1h-1zM970 128h1v1h-1z" fill="#FF0000"/><path d="M14 397h2v1h-2zM193 397h8v1h-8zM217 397h6v1h-6zM337 397h32v1h-32zM423 397h4v1h-4zM783 397h2v1h-2zM34 408h2v1h-2zM135 408h2v1h-2zM471 408h4v1h-4zM762 408h2v1h-2zM903 303h1v1h-1zM68 418h5v1h-5zM87 418h4v1h-4zM511 418h2v1h-2zM740 418h3v1h-3zM22 402h2v1h-2zM153 402h22v1h-22zM441 402h3v1h-3zM774 402h2v1h-2zM553 433h3v1h-3zM705 433h3v1h-3zM601 449h16v1h-16zM641 449h14v1h-14zM11 395h2v1h-2zM227 395h6v1h-6zM239 395h4v1h-4zM283 395h14v1h-14zM305 395h8v1h-8zM377 395h6v1h-6zM411 395h6v1h-6zM788 395h2v1h-2zM864 339h1v1h-1zM535 426h2v1h-2zM724 426h2v1h-2zM30 406h2v1h-2zM140 406h3v1h-3zM457 406h8v1h-8zM766 406h2v1h-2zM41 410h6v1h-6zM127 410h4v1h-4zM479 410h2v1h-2zM758 410h2v1h-2zM13 396h1v1h-1zM223 396h4v1h-4zM233 396h6v1h-6zM313 396h24v1h-24zM369 396h8v1h-8zM417 396h6v1h-6zM785 396h3v1h-3zM558 435h2v1h-2zM700 435h3v1h-3zM63 416h2v1h-2zM95 416h4v1h-4zM503 416h4v1h-4zM745 416h3v1h-3zM17 399h2v1h-2zM183 399h4v1h-4zM431 399h4v1h-4zM779 399h2v1h-2zM9 393h1v1h-1zM257 393h22v1h-22zM387 393h6v1h-6zM401 393h6v1h-6zM792 393h2v1h-2zM521 422h3v1h-3zM732 422h2v1h-2zM861 342h1v1h-1zM28 405h2v1h-2zM143 405h2v1h-2zM451 405h6v1h-6zM768 405h2v1h-2zM954 250h1v1h-1zM556 434h2v1h-2zM703 434h2v1h-2zM974 228h1v1h-1zM617 450h24v1h-24zM580 445h3v1h-3zM667 445h4v1h-4zM10 394h1v1h-1zM243 394h14v1h-14zM279 394h4v1h-4zM297 394h8v1h-8zM383 394h4v1h-4zM407 394h4v1h-4zM790 394h2v1h-2zM36 409h5v1h-5zM131 409h4v1h-4zM475 409h4v1h-4zM760 409h2v1h-2zM914 290h1v1h-1zM73 419h14v1h-14zM513 419h3v1h-3zM738 419h2v1h-2zM24 403h2v1h-2zM148 403h5v1h-5zM444 403h3v1h-3zM772 403h2v1h-2zM19 400h2v1h-2zM179 400h4v1h-4zM435 400h4v1h-4zM777 400h2v1h-2zM548 431h3v1h-3zM711 431h2v1h-2zM7 392h2v1h-2zM393 392h8v1h-8zM794 392h2v1h-2zM65 417h3v1h-3zM91 417h4v1h-4zM507 417h4v1h-4zM743 417h2v1h-2zM583 446h4v1h-4zM663 446h4v1h-4zM55 413h2v1h-2zM113 413h6v1h-6zM489 413h6v1h-6zM752 413h2v1h-2zM938 265h1v1h-1zM895 312h1v1h-1zM575 443h2v1h-2zM675 443h4v1h-4zM545 430h3v1h-3zM713 430h3v1h-3zM16 398h1v1h-1zM187 398h6v1h-6zM201 398h16v1h-16zM427 398h4v1h-4zM781 398h2v1h-2zM60 415h3v1h-3zM99 415h6v1h-6zM499 415h4v1h-4zM748 415h2v1h-2zM875 330h1v1h-1zM593 448h8v1h-8zM655 448h4v1h-4zM577 444h3v1h-3zM671 444h4v1h-4zM977 225h2v1h-2zM560 436h2v1h-2zM697 436h3v1h-3zM527 424h4v1h-4zM728 424h2v1h-2zM868 336h1v1h-1zM926 277h1v1h-1zM540 428h3v1h-3zM719 428h2v1h-2zM21 401h1v1h-1zM175 401h4v1h-4zM439 401h2v1h-2zM776 401h1v1h-1zM47 411h4v1h-4zM123 411h4v1h-4zM481 411h3v1h-3zM756 411h2v1h-2zM564 438h2v1h-2zM691 438h4v1h-4zM26 404h2v1h-2zM145 404h3v1h-3zM447 404h4v1h-4zM770 404h2v1h-2zM587 447h6v1h-6zM659 447h4v1h-4zM57 414h3v1h-3zM105 414h8v1h-8zM495 414h4v1h-4zM750 414h2v1h-2zM847 352h2v1h-2zM945 258h2v1h-2zM969 234h1v1h-1zM840 358h1v1h-1zM949 255h1v1h-1zM551 432h2v1h-2zM708 432h3v1h-3zM918 286h1v1h-1zM906 299h1v1h-1zM524 423h3v1h-3zM730 423h2v1h-2zM886 320h1v1h-1zM570 441h2v1h-2zM681 441h3v1h-3zM933 270h1v1h-1zM824 372h1v1h-1zM813 381h1v1h-1zM879 326h1v1h-1zM805 386h1v1h-1zM961 243h1v1h-1zM828 369h1v1h-1zM851 349h2v1h-2zM972 230h1v1h-1zM519 421h2v1h-2zM734 421h2v1h-2zM537 427h3v1h-3zM721 427h3v1h-3zM898 308h1v1h-1zM921 282h1v1h-1zM855 346h2v1h-2zM844 355h1v1h-1zM859 343h2v1h-2zM969 233h1v1h-1zM913 292h1v1h-1zM531 425h4v1h-4zM726 425h2v1h-2zM831 366h1v1h-1zM51 412h4v1h-4zM119 412h4v1h-4zM484 412h5v1h-5zM754 412h2v1h-2zM6 391h1v1h-1zM796 391h2v1h-2zM964 239h1v1h-1zM889 317h2v1h-2zM910 295h1v1h-1zM801 388h2v1h-2zM543 429h2v1h-2zM716 429h3v1h-3zM873 331h2v1h-2zM566 439h2v1h-2zM687 439h4v1h-4zM806 385h2v1h-2zM870 334h1v1h-1zM905 301h1v1h-1zM928 275h1v1h-1zM863 340h1v1h-1zM956 248h1v1h-1zM976 226h1v1h-1zM562 437h2v1h-2zM695 437h2v1h-2zM835 363h1v1h-1zM913 291h1v1h-1zM940 263h1v1h-1zM897 310h1v1h-1zM32 407h2v1h-2zM137 407h3v1h-3zM465 407h6v1h-6zM764 407h2v1h-2zM568 440h2v1h-2zM684 440h3v1h-3zM877 328h1v1h-1zM811 382h2v1h-2zM825 371h2v1h-2zM803 387h2v1h-2zM815 379h2v1h-2zM905 300h1v1h-1zM925 278h1v1h-1zM829 368h1v1h-1zM900 306h1v1h-1zM920 284h1v1h-1zM846 353h1v1h-1zM850 350h1v1h-1zM971 231h1v1h-1zM572 442h3v1h-3zM679 442h2v1h-2zM833 364h2v1h-2zM888 318h1v1h-1zM966 237h1v1h-1zM516 420h3v1h-3zM736 420h2v1h-2zM935 268h1v1h-1zM892 315h1v1h-1zM912 293h1v1h-1zM881 324h2v1h-2zM932 271h1v1h-1zM963 240h1v1h-1zM951 253h1v1h-1zM923 280h1v1h-1zM904 302h1v1h-1zM837 361h1v1h-1zM942 261h1v1h-1zM830 367h1v1h-1zM817 378h1v1h-1zM809 383h2v1h-2zM872 332h1v1h-1zM958 246h1v1h-1zM930 273h1v1h-1zM821 375h1v1h-1zM907 298h1v1h-1zM876 329h1v1h-1zM865 338h2v1h-2zM915 289h1v1h-1zM939 264h1v1h-1zM841 357h2v1h-2zM899 307h1v1h-1zM937 266h1v1h-1zM961 242h1v1h-1zM927 276h1v1h-1zM867 337h1v1h-1zM902 304h1v1h-1zM953 251h1v1h-1zM980 223h1v1h-1zM973 229h1v1h-1zM883 323h1v1h-1zM950 254h1v1h-1zM832 365h1v1h-1zM968 235h1v1h-1zM887 319h1v1h-1zM934 269h1v1h-1zM836 362h1v1h-1zM891 316h1v1h-1zM878 327h1v1h-1zM922 281h1v1h-1zM839 359h1v1h-1zM957 247h1v1h-1zM894 313h1v1h-1zM897 309h1v1h-1zM917 287h1v1h-1zM854 347h1v1h-1zM843 356h1v1h-1zM944 259h1v1h-1zM941 262h1v1h-1zM965 238h1v1h-1zM819 376h2v1h-2zM885 321h1v1h-1zM960 244h1v1h-1zM808 384h1v1h-1zM909 296h1v1h-1zM800 389h1v1h-1zM929 274h1v1h-1zM858 344h1v1h-1zM948 256h1v1h-1zM862 341h1v1h-1zM975 227h1v1h-1zM921 283h1v1h-1zM823 373h1v1h-1zM827 370h1v1h-1zM869 335h1v1h-1zM955 249h1v1h-1zM901 305h1v1h-1zM924 279h1v1h-1zM979 224h1v1h-1zM952 252h1v1h-1zM896 311h1v1h-1zM845 354h1v1h-1zM967 236h1v1h-1zM936 267h1v1h-1zM838 360h1v1h-1zM893 314h1v1h-1zM916 288h1v1h-1zM814 380h1v1h-1zM5 390h1v1h-1zM798 390h2v1h-2zM959 245h1v1h-1zM849 351h1v1h-1zM919 285h1v1h-1zM970 232h1v1h-1zM853 348h1v1h-1zM943 260h1v1h-1zM857 345h1v1h-1zM947 257h1v1h-1zM880 325h1v1h-1zM818 377h1v1h-1zM884 322h1v1h-1zM911 294h1v1h-1zM962 241h1v1h-1zM931 272h1v1h-1zM822 374h1v1h-1zM908 297h1v1h-1zM871 333h1v1h-1z" fill="#FF0000"/></g><g clip-path="url(#cd)"><rect x="5" y="665" width="1" height="27" fill="#000"/><rect x="13" y="665" width="1" height="24" fill="#000"/><rect x="21" y="665" width="1" height="24" fill="#000"/><rect x="29" y="665" width="1" height="21" fill="#000"/><rect x="37" y="665" width="1" height="20" fill="#000"/><rect x="45" y="665" width="1" height="19" fill="#000"/><rect x="53" y="665" width="1" height="18" fill="#000"/><rect x="61" y="665" width="1" height="18" fill="#000"/><rect x="69" y="665" width="1" height="17" fill="#000"/><rect x="77" y="665" width="1" height="12" fill="#000"/><rect x="85" y="665" width="1" height="6" fill="#000"/><rect x="93" y="665" width="1" height="4" fill="#000"/><rect x="101" y="665" width="1" height="4" fill="#000"/><rect x="109" y="665" width="1" height="4" fill="#000"/><rect x="117" y="665" width="1" height="1" fill="#000"/><rect x="125" y="663" width="1" height="3" fill="#000"/><rect x="133" y="661" width="1" height="5" fill="#000"/><rect x="141" y="656" width="1" height="10" fill="#000"/><rect x="149" y="652" width="1" height="14" fill="#000"/><rect x="157" y="651" width="1" height="15" fill="#000"/><rect x="165" y="651" width="1" height="15" fill="#000"/><rect x="173" y="648" width="1" height="18" fill="#000"/><rect x="181" y="647" width="1" height="19" fill="#000"/><rect x="189" y="647" width="1" height="19" fill="#000"/><rect x="197" y="649" width="1" height="17" fill="#000"/><rect x="205" y="653" width="1" height="13" fill="#000"/><rect x="213" y="652" width="1" height="14" fill="#000"/><rect x="221" y="653" width="1" height="13" fill="#000"/><rect x="229" y="652" width="1" height="14" fill="#000"/><rect x="237" y="657" width="1" height="9" fill="#000"/><rect x="245" y="659" width="1" height="7" fill="#000"/><rect x="253" y="662" width="1" height="4" fill="#000"/><rect x="261" y="665" width="1" height="1" fill="#000"/><rect x="269" y="665" width="1" height="2" fill="#000"/><rect x="277" y="665" width="1" height="1" fill="#000"/><rect x="285" y="665" width="1" height="2" fill="#000"/><rect x="293" y="665" width="1" height="3" fill="#000"/><rect x="301" y="665" width="1" height="1" fill="#000"/><rect x="309" y="665" width="1" height="1" fill="#000"/><rect x="317" y="664" width="1" height="2" fill="#000"/><rect x="325" y="664" width="1" height="2" fill="#000"/><rect x="333" y="663" width="1" height="3" fill="#000"/><rect x="341" y="663" width="1" height="3" fill="#000"/><rect x="349" y="663" width="1" height="3" fill="#000"/><rect x="357" y="663" width="1" height="3" fill="#000"/><rect x="365" y="665" width="1" height="1" fill="#000"/><rect x="373" y="665" width="1" height="5" fill="#000"/><rect x="381" y="665" width="1" height="7" fill="#000"/><rect x="389" y="665" width="1" height="7" fill="#000"/><rect x="397" y="665" width="1" height="11" fill="#000"/><rect x="405" y="665" width="1" height="18" fill="#000"/><rect x="413" y="665" width="1" height="21" fill="#000"/><rect x="421" y="665" width="1" height="26" fill="#000"/><rect x="429" y="665" width="1" height="29" fill="#000"/><rect x="437" y="665" width="1" height="33" fill="#000"/><rect x="445" y="665" width="1" height="35" fill="#000"/><rect x="453" y="665" width="1" height="36" fill="#000"/><rect x="461" y="665" width="1" height="36" fill="#000"/><rect x="469" y="665" width="1" height="34" fill="#000"/><rect x="477" y="665" width="1" height="30" fill="#000"/><rect x="485" y="665" width="1" height="27" fill="#000"/><rect x="493" y="665" width="1" height="23" fill="#000"/><rect x="501" y="665" width="1" height="23" fill="#000"/><rect x="509" y="665" width="1" height="22" fill="#000"/><rect x="517" y="665" width="1" height="22" fill="#000"/><rect x="525" y="665" width="1" height="21" fill="#000"/><rect x="533" y="665" width="1" height="19" fill="#000"/><rect x="541" y="665" width="1" height="16" fill="#000"/><rect x="549" y="665" width="1" height="12" fill="#000"/><rect x="557" y="665" width="1" height="11" fill="#000"/><rect x="565" y="665" width="1" height="12" fill="#000"/><rect x="573" y="665" width="1" height="12" fill="#000"/><rect x="581" y="665" width="1" height="8" fill="#000"/><rect x="589" y="665" width="1" height="5" fill="#000"/><rect x="605" y="664" width="1" height="2" fill="#000"/><rect x="613" y="657" width="1" height="9" fill="#000"/><rect x="621" y="653" width="1" height="13" fill="#000"/><rect x="629" y="648" width="1" height="18" fill="#000"/><rect x="637" y="645" width="1" height="21" fill="#000"/><rect x="645" y="643" width="1" height="23" fill="#000"/><rect x="653" y="642" width="1" height="24" fill="#000"/><rect x="661" y="638" width="1" height="28" fill="#000"/><rect x="669" y="636" width="1" height="30" fill="#000"/><rect x="677" y="633" width="1" height="33" fill="#000"/><rect x="685" y="628" width="1" height="38" fill="#000"/><rect x="693" y="623" width="1" height="43" fill="#000"/><rect x="701" y="619" width="1" height="47" fill="#000"/><rect x="709" y="616" width="1" height="50" fill="#000"/><rect x="717" y="615" width="1" height="51" fill="#000"/><rect x="725" y="612" width="1" height="54" fill="#000"/><rect x="733" y="611" width="1" height="55" fill="#000"/><rect x="741" y="609" width="1" height="57" fill="#000"/><rect x="749" y="609" width="1" height="57" fill="#000"/><rect x="757" y="610" width="1" height="56" fill="#000"/><rect x="765" y="614" width="1" height="52" fill="#000"/><rect x="773" y="618" width="1" height="48" fill="#000"/><rect x="781" y="621" width="1" height="45" fill="#000"/><rect x="789" y="624" width="1" height="42" fill="#000"/><rect x="797" y="630" width="1" height="36" fill="#000"/><rect x="805" y="634" width="1" height="32" fill="#000"/><rect x="813" y="638" width="1" height="28" fill="#000"/><rect x="821" y="640" width="1" height="26" fill="#000"/><rect x="829" y="638" width="1" height="28" fill="#000"/><rect x="837" y="638" width="1" height="28" fill="#000"/><rect x="845" y="640" width="1" height="26" fill="#000"/><rect x="853" y="642" width="1" height="24" fill="#000"/><rect x="861" y="642" width="1" height="24" fill="#000"/><rect x="869" y="640" width="1" height="26" fill="#000"/><rect x="877" y="640" width="1" height="26" fill="#000"/><rect x="885" y="635" width="1" height="31" fill="#000"/><rect x="893" y="632" width="1" height="34" fill="#000"/><rect x="901" y="627" width="1" height="39" fill="#000"/><rect x="909" y="623" width="1" height="43" fill="#000"/><rect x="917" y="623" width="1" height="43" fill="#000"/><rect x="925" y="621" width="1" height="45" fill="#000"/><rect x="933" y="622" width="1" height="44" fill="#000"/><rect x="941" y="623" width="1" height="43" fill="#000"/><rect x="949" y="626" width="1" height="40" fill="#000"/><rect x="957" y="627" width="1" height="39" fill="#000"/><rect x="965" y="628" width="1" height="38" fill="#000"/><rect x="973" y="629" width="1" height="37" fill="#000"/><rect x="981" y="632" width="1" height="34" fill="#000"/><path d="M455 690h2v1h-2zM527 690h3v1h-3zM17 682h2v1h-2zM84 682h2v1h-2zM437 682h2v1h-2zM563 682h3v1h-3zM155 663h1v1h-1zM299 663h3v1h-3zM353 663h3v1h-3zM359 663h3v1h-3zM365 663h3v1h-3zM631 663h1v1h-1zM197 650h3v1h-3zM203 650h3v1h-3zM233 650h3v1h-3zM239 650h2v1h-2zM660 650h2v1h-2zM467 694h1v1h-1zM515 694h3v1h-3zM185 653h2v1h-2zM251 653h3v1h-3zM654 653h2v1h-2zM12 681h2v1h-2zM89 681h3v1h-3zM433 681h1v1h-1zM569 681h3v1h-3zM575 681h2v1h-2zM713 628h3v1h-3zM828 628h2v1h-2zM935 628h3v1h-3zM703 632h1v1h-1zM841 632h1v1h-1zM923 632h1v1h-1zM695 635h2v1h-2zM851 635h3v1h-3zM907 635h1v1h-1zM911 635h2v1h-2zM821 624h1v1h-1zM959 624h3v1h-3zM971 624h3v1h-3zM461 692h2v1h-2zM521 692h3v1h-3zM689 638h1v1h-1zM865 638h1v1h-1zM869 638h3v1h-3zM889 638h1v1h-1zM893 638h3v1h-3zM145 666h1v1h-1zM385 666h1v1h-1zM389 666h2v1h-2zM623 666h2v1h-2zM475 697h1v1h-1zM479 697h3v1h-3zM485 697h3v1h-3zM491 697h3v1h-3zM5 678h2v1h-2zM103 678h1v1h-1zM425 678h3v1h-3zM587 678h3v1h-3zM173 658h1v1h-1zM271 658h1v1h-1zM642 658h2v1h-2zM720 625h2v1h-2zM822 625h2v1h-2zM947 625h3v1h-3zM953 625h3v1h-3zM977 625h2v1h-2zM875 639h3v1h-3zM881 639h3v1h-3zM887 639h2v1h-2zM163 660h1v1h-1zM281 660h2v1h-2zM143 667h2v1h-2zM391 667h1v1h-1zM673 645h1v1h-1zM23 684h3v1h-3zM79 684h1v1h-1zM443 684h1v1h-1zM557 684h2v1h-2zM690 637h2v1h-2zM859 637h1v1h-1zM863 637h2v1h-2zM899 637h3v1h-3zM468 695h2v1h-2zM505 695h1v1h-1zM509 695h3v1h-3zM108 676h2v1h-2zM421 676h1v1h-1zM595 676h1v1h-1zM156 662h2v1h-2zM289 662h1v1h-1zM293 662h3v1h-3zM635 662h1v1h-1zM151 664h1v1h-1zM305 664h3v1h-3zM311 664h2v1h-2zM337 664h1v1h-1zM341 664h3v1h-3zM347 664h3v1h-3zM371 664h3v1h-3zM629 664h2v1h-2zM707 631h1v1h-1zM839 631h2v1h-2zM924 631h2v1h-2zM751 614h1v1h-1zM791 614h3v1h-3zM857 636h2v1h-2zM905 636h2v1h-2zM180 654h2v1h-2zM257 654h2v1h-2zM653 654h1v1h-1zM7 679h1v1h-1zM101 679h2v1h-2zM583 679h1v1h-1zM209 649h3v1h-3zM215 649h3v1h-3zM221 649h3v1h-3zM227 649h3v1h-3zM409 670h1v1h-1zM612 670h2v1h-2zM41 688h3v1h-3zM47 688h3v1h-3zM53 688h3v1h-3zM450 688h2v1h-2zM535 688h1v1h-1zM149 665h2v1h-2zM313 665h1v1h-1zM317 665h3v1h-3zM323 665h3v1h-3zM329 665h3v1h-3zM335 665h2v1h-2zM377 665h3v1h-3zM383 665h2v1h-2zM625 665h1v1h-1zM127 672h1v1h-1zM414 672h2v1h-2zM607 672h1v1h-1zM113 675h2v1h-2zM419 675h2v1h-2zM599 675h2v1h-2zM701 633h2v1h-2zM845 633h2v1h-2zM919 633h1v1h-1zM35 687h3v1h-3zM59 687h3v1h-3zM449 687h1v1h-1zM539 687h3v1h-3zM131 671h3v1h-3zM413 671h1v1h-1zM611 671h1v1h-1zM395 668h3v1h-3zM401 668h3v1h-3zM617 668h3v1h-3zM725 623h2v1h-2zM817 623h1v1h-1zM965 623h3v1h-3zM179 655h1v1h-1zM259 655h1v1h-1zM649 655h1v1h-1zM761 612h3v1h-3zM767 612h3v1h-3zM773 612h3v1h-3zM779 612h3v1h-3zM137 669h3v1h-3zM407 669h2v1h-2zM263 656h3v1h-3zM647 656h2v1h-2zM115 674h1v1h-1zM119 674h2v1h-2zM601 674h1v1h-1zM31 686h1v1h-1zM65 686h3v1h-3zM71 686h2v1h-2zM545 686h3v1h-3zM11 680h1v1h-1zM95 680h3v1h-3zM431 680h2v1h-2zM577 680h1v1h-1zM581 680h2v1h-2zM833 629h2v1h-2zM931 629h1v1h-1zM457 691h1v1h-1zM29 685h2v1h-2zM73 685h1v1h-1zM77 685h2v1h-2zM444 685h2v1h-2zM551 685h3v1h-3zM19 683h1v1h-1zM83 683h1v1h-1zM439 683h1v1h-1zM559 683h1v1h-1zM191 651h3v1h-3zM241 651h1v1h-1zM245 651h2v1h-2zM659 651h1v1h-1zM161 661h2v1h-2zM283 661h1v1h-1zM287 661h2v1h-2zM636 661h2v1h-2zM755 613h3v1h-3zM785 613h3v1h-3zM732 620h2v1h-2zM809 620h3v1h-3zM107 677h1v1h-1zM593 677h2v1h-2zM749 615h2v1h-2zM797 615h2v1h-2zM671 646h2v1h-2zM665 648h3v1h-3zM743 616h3v1h-3zM799 616h1v1h-1zM737 618h3v1h-3zM804 618h2v1h-2zM827 627h1v1h-1zM941 627h2v1h-2zM533 689h2v1h-2zM167 659h3v1h-3zM275 659h3v1h-3zM641 659h1v1h-1zM697 634h1v1h-1zM847 634h1v1h-1zM913 634h1v1h-1zM917 634h2v1h-2zM708 630h2v1h-2zM835 630h1v1h-1zM929 630h2v1h-2zM121 673h1v1h-1zM125 673h2v1h-2zM605 673h2v1h-2zM719 626h1v1h-1zM943 626h1v1h-1zM979 626h1v1h-1zM678 643h2v1h-2zM727 622h1v1h-1zM815 622h2v1h-2zM473 696h2v1h-2zM497 696h3v1h-3zM503 696h2v1h-2zM187 652h1v1h-1zM247 652h1v1h-1zM684 640h2v1h-2zM174 657h2v1h-2zM269 657h2v1h-2zM683 641h1v1h-1zM731 621h1v1h-1zM803 617h1v1h-1zM677 644h1v1h-1zM463 693h1v1h-1z" fill="#FF0000"/></g><rect x="4" y="4" width="1242" height="1" fill="#000"/><rect x="4" y="600" width="1242" height="1" fill="#000"/><rect x="4" y="4" width="1" height="597" fill="#000"/><rect x="1245" y="4" width="1" height="597" fill="#000"/><rect x="4" y="602" width="1242" height="1" fill="#000"/><rect x="4" y="706" width="1242" height="1" fill="#000"/><rect x="4" y="602" width="1" height="105" fill="#000"/><rect x="1245" y="602" width="1" height="105" fill="#000"/><rect x="1245" y="100" width="1" height="1" fill="#C0C0C0"/><rect x="991" y="5" width="9" height="1" fill="#D0D0D0"/><rect x="992" y="6" width="7" height="1" fill="#C0C0C0"/><rect x="993" y="7" width="5" height="1" fill="#C0C0C0"/><rect x="994" y="8" width="3" height="1" fill="#C0C0C0"/><rect x="995" y="9" width="1" height="1" fill="#C0C0C0"/><rect x="1246" y="36" width="2" height="1" fill="#000"/><rect x="1246" y="69" width="2" height="1" fill="#000"/><rect x="1246" y="102" width="2" height="1" fill="#000"/><rect x="1246" y="135" width="2" height="1" fill="#000"/><rect x="1246" y="168" width="2" height="1" fill="#000"/><rect x="1246" y="201" width="2" height="1" fill="#000"/><rect x="1246" y="234" width="2" height="1" fill="#000"/><rect x="1246" y="267" width="2" height="1" fill="#000"/><rect x="1246" y="300" width="2" height="1" fill="#000"/><rect x="1246" y="333" width="2" height="1" fill="#000"/><rect x="1246" y="366" width="2" height="1" fill="#000"/><rect x="1246" y="399" width="2" height="1" fill="#000"/><rect x="1246" y="432" width="2" height="1" fill="#000"/><rect x="1246" y="465" width="2" height="1" fill="#000"/><rect x="1246" y="498" width="2" height="1" fill="#000"/><rect x="1246" y="531" width="2" height="1" fill="#000"/><rect x="1246" y="564" width="2" height="1" fill="#000"/><rect x="1246" y="597" width="2" height="1" fill="#000"/><rect x="1247" y="41" width="41" height="11" fill="#FF0000"/><rect x="1247" y="141" width="41" height="11" fill="#FF0000"/><rect x="1247" y="95" width="41" height="11" fill="#000000"/><rect x="1246" y="604" width="1" height="1" fill="#000"/><rect x="1246" y="665" width="1" height="1" fill="#000"/><rect x="1246" y="705" width="1" height="1" fill="#000"/><rect x="5" y="707" width="1" height="3" fill="#000"/><rect x="69" y="707" width="1" height="3" fill="#000"/><rect x="133" y="707" width="1" height="3" fill="#000"/><rect x="197" y="707" width="1" height="3" fill="#000"/><rect x="261" y="707" width="1" height="3" fill="#000"/><rect x="325" y="707" width="1" height="3" fill="#000"/><rect x="389" y="707" width="1" height="3" fill="#000"/><rect x="453" y="707" width="1" height="3" fill="#000"/><rect x="517" y="707" width="1" height="3" fill="#000"/><rect x="581" y="707" width="1" height="3" fill="#000"/><rect x="645" y="707" width="1" height="3" fill="#000"/><rect x="709" y="707" width="1" height="3" fill="#000"/><rect x="773" y="707" width="1" height="3" fill="#000"/><rect x="837" y="707" width="1" height="3" fill="#000"/><rect x="901" y="707" width="1" height="3" fill="#000"/><rect x="965" y="707" width="1" height="3" fill="#000"/><rect x="8" y="11" width="7" height="1" fill="#000"/><rect x="9" y="12" width="5" height="1" fill="#000"/><rect x="10" y="13" width="3" height="1" fill="#000"/><rect x="11" y="14" width="1" height="1" fill="#000"/><text x="1251.00" y="36" dy="4" textLength="33.00" lengthAdjust="spacing" fill="#000" style="font-family:'Liberation Sans', sans-serif;font-size:10px;text-rendering:geometricPrecision" shape-rendering="auto">1.25450</text><text x="1251.00" y="69" dy="4" textLength="33.00" lengthAdjust="spacing" fill="#000" style="font-family:'Liberation Sans', sans-serif;font-size:10px;text-rendering:geometricPrecision" shape-rendering="auto">1.24120</text><text x="1251.00" y="135" dy="4" textLength="33.00" lengthAdjust="spacing" fill="#000" style="font-family:'Liberation Sans', sans-serif;font-size:10px;text-rendering:geometricPrecision" shape-rendering="auto">1.21460</text><text x="1251.00" y="168" dy="4" textLength="33.00" lengthAdjust="spacing" fill="#000" style="font-family:'Liberation Sans', sans-serif;font-size:10px;text-rendering:geometricPrecision" shape-rendering="auto">1.20130</text><text x="1251.00" y="201" dy="4" textLength="33.00" lengthAdjust="spacing" fill="#000" style="font-family:'Liberation Sans', sans-serif;font-size:10px;text-rendering:geometricPrecision" shape-rendering="auto">1.18835</text><text x="1251.00" y="234" dy="4" textLength="33.00" lengthAdjust="spacing" fill="#000" style="font-family:'Liberation Sans', sans-serif;font-size:10px;text-rendering:geometricPrecision" shape-rendering="auto">1.17505</text><text x="1251.00" y="267" dy="4" textLength="33.00" lengthAdjust="spacing" fill="#000" style="font-family:'Liberation Sans', sans-serif;font-size:10px;text-rendering:geometricPrecision" shape-rendering="auto">1.16175</text><text x="1251.00" y="300" dy="4" textLength="33.00" lengthAdjust="spacing" fill="#000" style="font-family:'Liberation Sans', sans-serif;font-size:10px;text-rendering:geometricPrecision" shape-rendering="auto">1.14845</text><text x="1251.00" y="333" dy="4" textLength="33.00" lengthAdjust="spacing" fill="#000" style="font-family:'Liberation Sans', sans-serif;font-size:10px;text-rendering:geometricPrecision" shape-rendering="auto">1.13515</text><text x="1251.00" y="366" dy="4" textLength="33.00" lengthAdjust="spacing" fill="#000" style="font-family:'Liberation Sans', sans-serif;font-size:10px;text-rendering:geometricPrecision" shape-rendering="auto">1.12185</text><text x="1251.00" y="399" dy="4" textLength="33.00" lengthAdjust="spacing" fill="#000" style="font-family:'Liberation Sans', sans-serif;font-size:10px;text-rendering:geometricPrecision" shape-rendering="auto">1.10890</text><text x="1251.00" y="432" dy="4" textLength="33.00" lengthAdjust="spacing" fill="#000" style="font-family:'Liberation Sans', sans-serif;font-size:10px;text-rendering:geometricPrecision" shape-rendering="auto">1.09560</text><text x="1251.00" y="465" dy="4" textLength="33.00" lengthAdjust="spacing" fill="#000" style="font-family:'Liberation Sans', sans-serif;font-size:10px;text-rendering:geometricPrecision" shape-rendering="auto">1.08230</text><text x="1251.00" y="498" dy="4" textLength="33.00" lengthAdjust="spacing" fill="#000" style="font-family:'Liberation Sans', sans-serif;font-size:10px;text-rendering:geometricPrecision" shape-rendering="auto">1.06900</text><text x="1251.00" y="531" dy="4" textLength="33.00" lengthAdjust="spacing" fill="#000" style="font-family:'Liberation Sans', sans-serif;font-size:10px;text-rendering:geometricPrecision" shape-rendering="auto">1.05570</text><text x="1251.00" y="564" dy="4" textLength="33.00" lengthAdjust="spacing" fill="#000" style="font-family:'Liberation Sans', sans-serif;font-size:10px;text-rendering:geometricPrecision" shape-rendering="auto">1.04275</text><text x="1251.00" y="597" dy="4" textLength="33.00" lengthAdjust="spacing" fill="#000" style="font-family:'Liberation Sans', sans-serif;font-size:10px;text-rendering:geometricPrecision" shape-rendering="auto">1.02945</text><text x="1251.00" y="46" dy="4" textLength="33.00" lengthAdjust="spacing" fill="#FFF" style="font-family:'Liberation Sans', sans-serif;font-size:10px;text-rendering:geometricPrecision" shape-rendering="auto">1.25000</text><text x="1251.00" y="146" dy="4" textLength="33.00" lengthAdjust="spacing" fill="#FFF" style="font-family:'Liberation Sans', sans-serif;font-size:10px;text-rendering:geometricPrecision" shape-rendering="auto">1.21000</text><text x="1251.00" y="100" dy="4" textLength="34.00" lengthAdjust="spacing" fill="#FFF" style="font-family:'Liberation Sans', sans-serif;font-size:10px;text-rendering:geometricPrecision" shape-rendering="auto">1.22851</text><text x="1249.00" y="609" dy="4" textLength="39.00" lengthAdjust="spacing" fill="#000" style="font-family:'Liberation Sans', sans-serif;font-size:10px;text-rendering:geometricPrecision" shape-rendering="auto">0.030308</text><text x="1249.00" y="665" dy="4" textLength="18.00" lengthAdjust="spacing" fill="#000" style="font-family:'Liberation Sans', sans-serif;font-size:10px;text-rendering:geometricPrecision" shape-rendering="auto">0.00</text><text x="1249.00" y="699" dy="4" textLength="42.00" lengthAdjust="spacing" fill="#000" style="font-family:'Liberation Sans', sans-serif;font-size:10px;text-rendering:geometricPrecision" shape-rendering="auto">-0.020187</text><text x="4.00" y="715" dy="4" textLength="55.00" lengthAdjust="spacing" fill="#000" style="font-family:'Liberation Sans', sans-serif;font-size:10px;text-rendering:geometricPrecision" shape-rendering="auto">29 Nov 2015</text><text x="68.00" y="715" dy="4" textLength="50.00" lengthAdjust="spacing" fill="#000" style="font-family:'Liberation Sans', sans-serif;font-size:10px;text-rendering:geometricPrecision" shape-rendering="auto">24 Jan 2016</text><text x="132.00" y="715" dy="4" textLength="52.00" lengthAdjust="spacing" fill="#000" style="font-family:'Liberation Sans', sans-serif;font-size:10px;text-rendering:geometricPrecision" shape-rendering="auto">20 Mar 2016</text><text x="195.00" y="715" dy="4" textLength="56.00" lengthAdjust="spacing" fill="#000" style="font-family:'Liberation Sans', sans-serif;font-size:10px;text-rendering:geometricPrecision" shape-rendering="auto">15 May 2016</text><text x="259.00" y="715" dy="4" textLength="48.00" lengthAdjust="spacing" fill="#000" style="font-family:'Liberation Sans', sans-serif;font-size:10px;text-rendering:geometricPrecision" shape-rendering="auto">10 Jul 2016</text><text x="324.00" y="715" dy="4" textLength="47.00" lengthAdjust="spacing" fill="#000" style="font-family:'Liberation Sans', sans-serif;font-size:10px;text-rendering:geometricPrecision" shape-rendering="auto">4 Sep 2016</text><text x="388.00" y="715" dy="4" textLength="51.00" lengthAdjust="spacing" fill="#000" style="font-family:'Liberation Sans', sans-serif;font-size:10px;text-rendering:geometricPrecision" shape-rendering="auto">30 Oct 2016</text><text x="452.00" y="715" dy="4" textLength="52.00" lengthAdjust="spacing" fill="#000" style="font-family:'Liberation Sans', sans-serif;font-size:10px;text-rendering:geometricPrecision" shape-rendering="auto">25 Dec 2016</text><text x="515.00" y="715" dy="4" textLength="53.00" lengthAdjust="spacing" fill="#000" style="font-family:'Liberation Sans', sans-serif;font-size:10px;text-rendering:geometricPrecision" shape-rendering="auto">19 Feb 2017</text><text x="579.00" y="715" dy="4" textLength="52.00" lengthAdjust="spacing" fill="#000" style="font-family:'Liberation Sans', sans-serif;font-size:10px;text-rendering:geometricPrecision" shape-rendering="auto">16 Apr 2017</text><text x="643.00" y="715" dy="4" textLength="52.00" lengthAdjust="spacing" fill="#000" style="font-family:'Liberation Sans', sans-serif;font-size:10px;text-rendering:geometricPrecision" shape-rendering="auto">11 Jun 2017</text><text x="708.00" y="715" dy="4" textLength="48.00" lengthAdjust="spacing" fill="#000" style="font-family:'Liberation Sans', sans-serif;font-size:10px;text-rendering:geometricPrecision" shape-rendering="auto">6 Aug 2017</text><text x="771.00" y="715" dy="4" textLength="47.00" lengthAdjust="spacing" fill="#000" style="font-family:'Liberation Sans', sans-serif;font-size:10px;text-rendering:geometricPrecision" shape-rendering="auto">1 Oct 2017</text><text x="836.00" y="715" dy="4" textLength="54.00" lengthAdjust="spacing" fill="#000" style="font-family:'Liberation Sans', sans-serif;font-size:10px;text-rendering:geometricPrecision" shape-rendering="auto">26 Nov 2017</text><text x="900.00" y="715" dy="4" textLength="50.00" lengthAdjust="spacing" fill="#000" style="font-family:'Liberation Sans', sans-serif;font-size:10px;text-rendering:geometricPrecision" shape-rendering="auto">21 Jan 2018</text><text x="963.00" y="715" dy="4" textLength="54.00" lengthAdjust="spacing" fill="#000" style="font-family:'Liberation Sans', sans-serif;font-size:10px;text-rendering:geometricPrecision" shape-rendering="auto">18 Mar 2018</text><text x="20.00" y="12" dy="4" textLength="72.00" lengthAdjust="spacing" fill="#000" style="font-family:'Liberation Sans', sans-serif;font-size:10px;text-rendering:geometricPrecision" shape-rendering="auto">EURUSD,Weekly</text><text x="99.00" y="12" dy="4" textLength="33.00" lengthAdjust="spacing" fill="#000" style="font-family:'Liberation Sans', sans-serif;font-size:10px;text-rendering:geometricPrecision" shape-rendering="auto">1.23170</text><text x="135.00" y="12" dy="4" textLength="33.00" lengthAdjust="spacing" fill="#000" style="font-family:'Liberation Sans', sans-serif;font-size:10px;text-rendering:geometricPrecision" shape-rendering="auto">1.23442</text><text x="170.00" y="12" dy="4" textLength="34.00" lengthAdjust="spacing" fill="#000" style="font-family:'Liberation Sans', sans-serif;font-size:10px;text-rendering:geometricPrecision" shape-rendering="auto">1.22142</text><text x="206.00" y="12" dy="4" textLength="34.00" lengthAdjust="spacing" fill="#000" style="font-family:'Liberation Sans', sans-serif;font-size:10px;text-rendering:geometricPrecision" shape-rendering="auto">1.22851</text><text x="9.00" y="611" dy="4" textLength="66.00" lengthAdjust="spacing" fill="#000" style="font-family:'Liberation Sans', sans-serif;font-size:10px;text-rendering:geometricPrecision" shape-rendering="auto">MACD(12,26,9)</text><text x="78.00" y="611" dy="4" textLength="38.00" lengthAdjust="spacing" fill="#000" style="font-family:'Liberation Sans', sans-serif;font-size:10px;text-rendering:geometricPrecision" shape-rendering="auto">0.016790</text><text x="119.00" y="611" dy="4" textLength="38.00" lengthAdjust="spacing" fill="#000" style="font-family:'Liberation Sans', sans-serif;font-size:10px;text-rendering:geometricPrecision" shape-rendering="auto">0.019822</text><rect x="1288" y="1" width="1" height="727" fill="#E3E3E3"/><rect x="1289" y="0" width="1" height="729" fill="#FFFFFF"/><rect x="1" y="727" width="1288" height="1" fill="#E3E3E3"/><rect x="0" y="728" width="1290" height="1" fill="#FFFFFF"/></svg>
</body></html>
